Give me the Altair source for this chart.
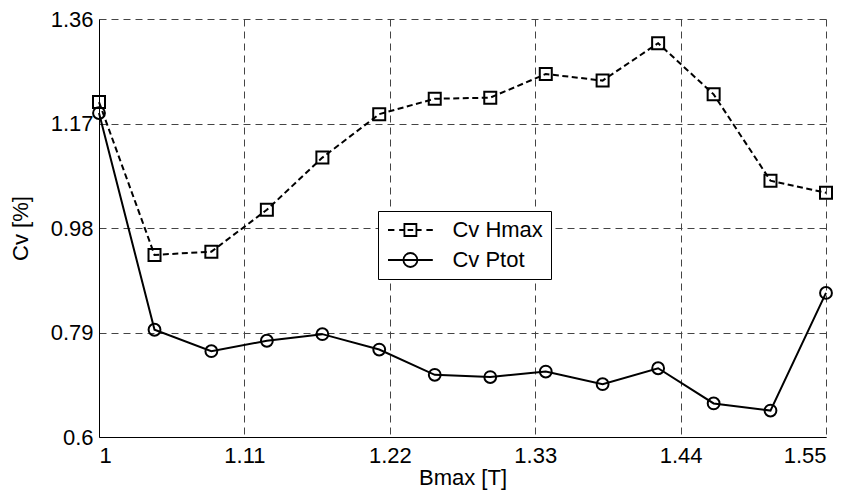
import altair as alt
import pandas as pd

# Data
bmax = [1.000, 1.042, 1.085, 1.127, 1.169, 1.212, 1.254, 1.296, 1.338, 1.381, 1.423, 1.465, 1.508, 1.550]
cv_hmax = [1.209, 0.931, 0.937, 1.013, 1.108, 1.187, 1.215, 1.217, 1.260, 1.248, 1.316, 1.223, 1.066, 1.044]
cv_ptot = [1.189, 0.795, 0.756, 0.775, 0.787, 0.759, 0.713, 0.709, 0.719, 0.696, 0.725, 0.661, 0.648, 0.862]
series_names = ["Cv Hmax", "Cv Ptot"]
x_ticks = [1, 1.11, 1.22, 1.33, 1.44, 1.55]
y_ticks = [0.6, 0.79, 0.98, 1.17, 1.36]

df = pd.concat([
    pd.DataFrame({"Bmax": bmax, "Cv": cv_hmax, "series": series_names[0]}),
    pd.DataFrame({"Bmax": bmax, "Cv": cv_ptot, "series": series_names[1]}),
], ignore_index=True)

FONT = "Liberation Sans"
FS = 22

x_enc = alt.X("Bmax:Q",
              scale=alt.Scale(domain=[1, 1.55], nice=False, zero=False),
              axis=alt.Axis(values=x_ticks, labelExpr="'' + datum.value", title="Bmax [T]",
                            labelPadding=8, titlePadding=1))
y_enc = alt.Y("Cv:Q",
              scale=alt.Scale(domain=[0.6, 1.36], nice=False, zero=False),
              axis=alt.Axis(values=y_ticks, labelExpr="'' + datum.value", title="Cv [%]",
                            labelPadding=6, titlePadding=18))

base = alt.Chart(df).encode(x=x_enc, y=y_enc)

line_h = base.transform_filter(alt.datum.series == series_names[0]).mark_line(
    color="black", strokeWidth=2, strokeDash=[6, 3.5])
line_p = base.transform_filter(alt.datum.series == series_names[1]).mark_line(
    color="black", strokeWidth=2)
pts_h = base.transform_filter(alt.datum.series == series_names[0]).mark_point(
    shape="square", size=144, filled=False, color="black", strokeWidth=2, opacity=1)
pts_p = base.transform_filter(alt.datum.series == series_names[1]).mark_point(
    shape="circle", size=140, filled=False, color="black", strokeWidth=2, opacity=1)

# legend symbols: line + marker (unit = 8px since symbolSize = 256)
path_h = ("M-2.8,0H-2.0M-1.4,0H-0.75M-0.75,-0.75H0.75V0.75H-0.75Z"
          "M-0.35,0H0.35M0.75,0H1.4M2.0,0H2.8")
path_p = ("M-2.8,0H2.8M0.875,0A0.875,0.875 0 1,1 -0.875,0"
          "A0.875,0.875 0 1,1 0.875,0Z")

legend_layer = base.transform_filter("false").mark_point(
    filled=False, color="black", strokeWidth=2, opacity=1).encode(
    shape=alt.Shape("series:N",
                    scale=alt.Scale(domain=series_names, range=[path_h, path_p]),
                    legend=alt.Legend(title=None, orient="none", legendX=279, legendY=192,
                                      strokeColor="black", fillColor="white",
                                      padding=8, rowPadding=8,
                                      symbolSize=256, symbolStrokeWidth=1.8,
                                      symbolStrokeColor="black", symbolFillColor="transparent",
                                      symbolOffset=13.4, labelOffset=31,
                                      labelFont=FONT, labelFontSize=FS, labelColor="black",
                                      labelExpr="datum.label + '  '", labelLimit=300))
)

chart = alt.layer(line_h, line_p, pts_h, pts_p, legend_layer).properties(
    width=727, height=418,
    autosize=alt.AutoSizeParams(type="none"),
    padding={"left": 91, "top": 11, "right": 21, "bottom": 53},
    background="white",
).configure_view(stroke=None).configure_axis(
    labelFont=FONT, labelFontSize=FS, labelColor="black",
    titleFont=FONT, titleFontSize=FS, titleColor="black", titleFontWeight="normal",
    domain=True, domainColor="black", domainWidth=1,
    ticks=False, tickSize=0,
    grid=True, gridColor="#444444", gridDash=[7, 5], gridWidth=1, gridOpacity=1,
)

chart.save("out.html", embed_options={"renderer": "svg", "actions": False})
